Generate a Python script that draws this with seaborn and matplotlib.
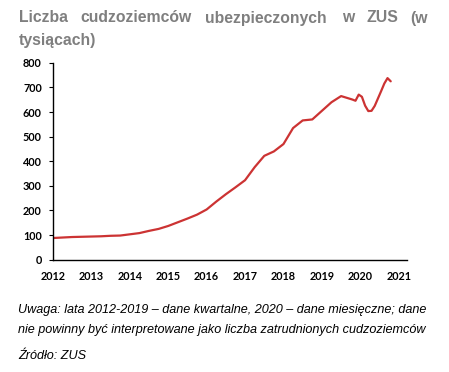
import numpy as np
import pandas as pd
import matplotlib
matplotlib.use("Agg")
import matplotlib.pyplot as plt
import seaborn as sns

# ---- data (thousands of insured foreigners) ----
quarter_periods = list(pd.period_range("2012Q1", "2019Q3", freq="Q").astype(str))
quarter_values = [88, 90, 92, 93,
                  94, 95, 97, 98,
                  103, 108, 117, 125,
                  137, 152, 167, 183,
                  204, 236, 266, 294,
                  323, 376, 422, 440,
                  470, 535, 566, 570,
                  605, 640, 665]
month_periods = list(pd.period_range("2019-10", "2020-10", freq="M").astype(str))
month_values = [651, 646, 671, 662, 626, 604, 605, 625, 655, 685, 716, 738, 725]

x_ticks = [2012, 2013, 2014, 2015, 2016, 2017, 2018, 2019, 2020, 2021]
y_ticks = [0, 100, 200, 300, 400, 500, 600, 700, 800]

title_words = ["Liczba", "cudzoziemców", "ubezpieczonych", "w", "ZUS", "(w"]
title_line2 = "tysiącach)"
note_line1 = "Uwaga: lata 2012-2019 – dane kwartalne, 2020 – dane miesięczne; dane"
note_line2 = "nie powinny być interpretowane jako liczba zatrudnionych cudzoziemców"
source_text = "Źródło: ZUS"

# ---- build table ----
def q_to_year(p):
    per = pd.Period(p, freq="Q")
    return per.year + (per.quarter - 1) / 4

def m_to_year(p):
    per = pd.Period(p, freq="M")
    return per.year + (per.month - 0.5) / 12

df = pd.DataFrame({
    "x": [q_to_year(p) for p in quarter_periods] + [m_to_year(p) for p in month_periods],
    "value": quarter_values + month_values,
})

sns.set_theme(style="white")
plt.rcParams["font.family"] = ["Liberation Sans", "DejaVu Sans"]

fig = plt.figure(figsize=(4.49, 3.72), dpi=100)
ax = fig.add_axes([0.118, 0.302, 0.788, 0.529])

sns.lineplot(data=df, x="x", y="value", ax=ax, color="#cc3333", linewidth=1.6)

ax.set_xlim(2012, 2021.21)
ax.set_ylim(0, 800)
ax.set_xticks(x_ticks)
ax.set_xticklabels([str(t) for t in x_ticks])
ax.set_yticks(y_ticks)
ax.set_yticklabels([str(t) for t in y_ticks])
ax.set_xlabel("")
ax.set_ylabel("")

for lab in ax.get_xticklabels() + ax.get_yticklabels():
    lab.set_fontfamily(["Lato", "DejaVu Sans"])
    lab.set_fontweight("bold")
    lab.set_fontsize(7.8)
    lab.set_color("black")

ax.tick_params(axis="y", which="major", left=True, length=3, width=0.8, pad=5, color="black")
ax.tick_params(axis="x", which="major", bottom=False, length=0, pad=8)

for s in ["top", "right"]:
    ax.spines[s].set_visible(False)
for s in ["left", "bottom"]:
    ax.spines[s].set_color("black")
    ax.spines[s].set_linewidth(1.0)
ax.grid(False)

W, H = 449, 372
# justified title line 1
title_x = [19, 80.5, 205.5, 342.5, 366.5, 410]
for w, xp in zip(title_words, title_x):
    fig.text(xp / W, 1 - 18 / H, w, ha="left", va="center", fontsize=11.3,
             fontweight="bold", color="#7f7f7f")
fig.text(19 / W, 1 - 40 / H, title_line2, ha="left", va="center", fontsize=11.3,
         fontweight="bold", color="#7f7f7f")

fig.text(18 / W, 1 - 309.5 / H, note_line1, ha="left", va="center", fontsize=9.1,
         style="italic", color="black")
fig.text(18 / W, 1 - 330 / H, note_line2, ha="left", va="center", fontsize=9.1,
         style="italic", color="black")
fig.text(18 / W, 1 - 356 / H, source_text, ha="left", va="center", fontsize=9.1,
         style="italic", color="black")

fig.savefig("out.png", dpi=100, facecolor="white")
